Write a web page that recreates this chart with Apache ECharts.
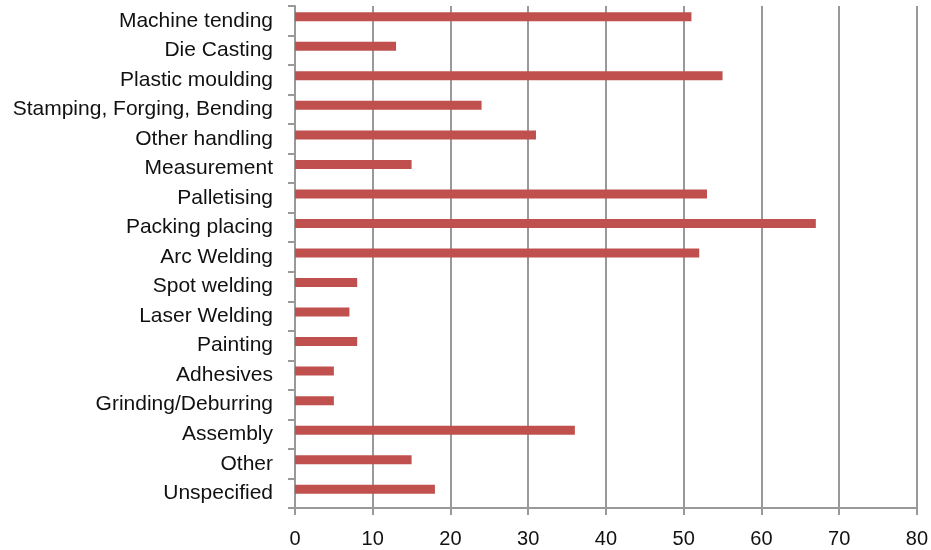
<!DOCTYPE html>
<html>
<head>
<meta charset="utf-8">
<script src="https://cdn.jsdelivr.net/npm/echarts@6/dist/echarts.min.js"></script>
<style>
  html, body { margin: 0; padding: 0; background: #fff; }
  #main { width: 931px; height: 550px; }
</style>
</head>
<body>
<div id="main"></div>
<script>
// categories, top to bottom
const categories = [
  'Machine tending', 'Die Casting', 'Plastic moulding', 'Stamping, Forging, Bending',
  'Other handling', 'Measurement', 'Palletising', 'Packing placing', 'Arc Welding',
  'Spot welding', 'Laser Welding', 'Painting', 'Adhesives', 'Grinding/Deburring',
  'Assembly', 'Other', 'Unspecified'
];
const values = [51, 13, 55, 24, 31, 15, 53, 67, 52, 8, 7, 8, 5, 5, 36, 15, 18];
const xTicks = { min: 0, max: 80, interval: 10 };

const chart = echarts.init(document.getElementById('main'));
const gray = '#999999';

chart.setOption({
  animation: false,
  grid: { left: 295, right: 11, top: 6, bottom: 42 },
  xAxis: {
    type: 'value',
    min: xTicks.min,
    max: xTicks.max,
    interval: xTicks.interval,
    axisLine: { show: true, lineStyle: { color: gray, width: 2 } },
    axisTick: { show: true, length: 7, lineStyle: { color: gray, width: 2 } },
    splitLine: { show: true, lineStyle: { color: gray, width: 2 } },
    axisLabel: { color: '#111', fontSize: 20, fontFamily: 'Liberation Sans, Arial', margin: 21 }
  },
  yAxis: {
    type: 'category',
    inverse: true,
    data: categories,
    axisLine: { show: true, lineStyle: { color: gray, width: 2 } },
    axisTick: { show: true, length: 7, lineStyle: { color: gray, width: 2 } },
    axisLabel: { color: '#111', fontSize: 21, fontFamily: 'Liberation Sans, Arial', margin: 22 }
  },
  series: [
    {
      type: 'bar',
      data: values,
      barWidth: 9,
      barGap: '0%',
      itemStyle: { color: '#c0504d' }
    },
    {
      // empty companion series, as in the source, shifts bars upward in each band
      type: 'bar',
      data: [],
      barWidth: 8
    }
  ]
});
</script>
</body>
</html>
